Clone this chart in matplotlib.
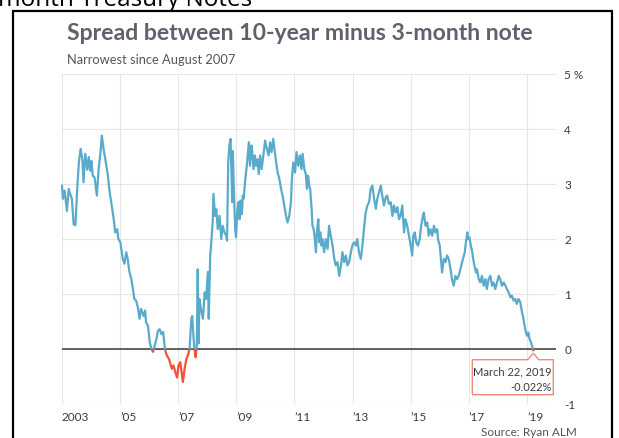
import numpy as np
import matplotlib
matplotlib.use("Agg")
import matplotlib.pyplot as plt
from matplotlib.patches import Rectangle, Polygon

# 10-year minus 3-month Treasury spread, in % (decimal years)
years = [
    2003.00, 2003.03, 2003.09, 2003.17, 2003.23, 2003.30, 2003.34, 2003.40, 2003.46, 2003.53,
    2003.58, 2003.64, 2003.70, 2003.74, 2003.80, 2003.87, 2003.92, 2003.97, 2004.01, 2004.06,
    2004.12, 2004.20, 2004.26, 2004.33, 2004.37, 2004.43, 2004.49, 2004.58, 2004.64, 2004.72,
    2004.78, 2004.83, 2004.90, 2004.94, 2005.01, 2005.09, 2005.15, 2005.21, 2005.26, 2005.32,
    2005.38, 2005.44, 2005.49, 2005.55, 2005.61, 2005.67, 2005.72, 2005.81, 2005.86, 2005.89,
    2005.96, 2006.02, 2006.08, 2006.13, 2006.19, 2006.25, 2006.30, 2006.36, 2006.42, 2006.48,
    2006.53, 2006.57, 2006.61, 2006.68, 2006.73, 2006.78, 2006.84, 2006.90, 2006.96, 2007.01,
    2007.07, 2007.13, 2007.16, 2007.22, 2007.28, 2007.33, 2007.39, 2007.45, 2007.48, 2007.53,
    2007.56, 2007.60, 2007.64, 2007.67, 2007.70, 2007.73, 2007.79, 2007.85, 2007.91, 2007.96,
    2008.02, 2008.05, 2008.10, 2008.13, 2008.19, 2008.21, 2008.27, 2008.31, 2008.36, 2008.42,
    2008.48, 2008.53, 2008.59, 2008.65, 2008.68, 2008.72, 2008.76, 2008.80, 2008.83, 2008.86,
    2008.88, 2008.91, 2008.96, 2008.99, 2009.03, 2009.07, 2009.11, 2009.14, 2009.19, 2009.22,
    2009.25, 2009.31, 2009.37, 2009.43, 2009.47, 2009.52, 2009.56, 2009.59, 2009.64, 2009.68,
    2009.73, 2009.77, 2009.82, 2009.87, 2009.93, 2009.99, 2010.02, 2010.08, 2010.11, 2010.16,
    2010.21, 2010.27, 2010.31, 2010.37, 2010.42, 2010.48, 2010.54, 2010.59, 2010.65, 2010.71,
    2010.76, 2010.82, 2010.88, 2010.91, 2010.96, 2011.02, 2011.07, 2011.13, 2011.19, 2011.24,
    2011.28, 2011.34, 2011.39, 2011.43, 2011.47, 2011.51, 2011.54, 2011.59, 2011.62, 2011.66,
    2011.70, 2011.74, 2011.77, 2011.82, 2011.85, 2011.89, 2011.93, 2011.96, 2012.02, 2012.08,
    2012.14, 2012.19, 2012.25, 2012.31, 2012.37, 2012.42, 2012.48, 2012.54, 2012.60, 2012.65,
    2012.71, 2012.77, 2012.82, 2012.88, 2012.94, 2012.99, 2013.05, 2013.11, 2013.16, 2013.22,
    2013.28, 2013.34, 2013.39, 2013.45, 2013.51, 2013.57, 2013.62, 2013.68, 2013.74, 2013.80,
    2013.85, 2013.91, 2013.97, 2014.02, 2014.08, 2014.14, 2014.19, 2014.25, 2014.31, 2014.37,
    2014.42, 2014.48, 2014.54, 2014.60, 2014.65, 2014.71, 2014.77, 2014.82, 2014.88, 2014.94,
    2015.00, 2015.05, 2015.09, 2015.14, 2015.19, 2015.25, 2015.31, 2015.36, 2015.42, 2015.45,
    2015.51, 2015.57, 2015.62, 2015.68, 2015.74, 2015.80, 2015.85, 2015.91, 2015.94, 2016.00,
    2016.06, 2016.08, 2016.14, 2016.20, 2016.25, 2016.31, 2016.37, 2016.42, 2016.48, 2016.54,
    2016.60, 2016.65, 2016.71, 2016.77, 2016.86, 2016.90, 2016.95, 2016.97, 2017.02, 2017.08,
    2017.11, 2017.15, 2017.19, 2017.25, 2017.28, 2017.34, 2017.40, 2017.45, 2017.51, 2017.57,
    2017.62, 2017.68, 2017.74, 2017.80, 2017.85, 2017.91, 2017.97, 2018.03, 2018.08, 2018.14,
    2018.20, 2018.26, 2018.31, 2018.37, 2018.43, 2018.48, 2018.54, 2018.60, 2018.65, 2018.71,
    2018.77, 2018.83, 2018.88, 2018.94, 2019.00, 2019.05, 2019.09, 2019.14, 2019.22,
]
spread = [
    2.97, 2.73, 2.88, 2.51, 2.91, 2.79, 2.73, 2.27, 2.25, 2.97,
    3.39, 3.64, 3.45, 3.03, 3.55, 3.26, 3.49, 3.24, 3.42, 3.15,
    3.12, 2.79, 3.27, 3.60, 3.88, 3.64, 3.45, 3.15, 2.85, 2.58,
    2.36, 2.12, 2.18, 2.00, 1.94, 1.64, 1.55, 1.76, 1.64, 1.40,
    1.29, 1.09, 0.91, 0.88, 0.76, 0.55, 0.73, 0.60, 0.70, 0.49,
    0.42, 0.12, 0.00, -0.05, 0.06, 0.18, 0.33, 0.36, 0.27, 0.31,
    0.06, -0.06, -0.12, -0.18, -0.27, -0.36, -0.30, -0.42, -0.52, -0.30,
    -0.24, -0.48, -0.60, -0.36, -0.18, -0.12, 0.00, 0.55, 0.60, 0.18,
    0.00, -0.15, 0.06, 1.45, 0.10, 0.91, 0.70, 0.55, 1.03, 0.91,
    1.40, 0.55, 1.70, 1.88, 2.36, 2.82, 2.42, 2.54, 2.18, 2.42,
    2.00, 2.24, 2.12, 2.06, 1.97, 3.39, 3.70, 3.82, 3.27, 2.67,
    3.60, 2.97, 2.18, 2.03, 2.50, 2.67, 2.36, 2.70, 2.45, 2.79,
    2.73, 3.09, 3.39, 3.76, 3.33, 3.70, 3.52, 3.27, 3.52, 3.33,
    3.45, 3.18, 3.52, 3.27, 3.52, 3.79, 3.70, 3.58, 3.52, 3.76,
    3.58, 3.82, 3.64, 3.39, 3.21, 3.09, 2.91, 2.79, 2.61, 2.42,
    2.30, 2.42, 2.67, 3.09, 3.39, 3.21, 3.58, 3.33, 3.52, 3.27,
    3.55, 3.27, 3.18, 2.91, 3.15, 2.97, 2.91, 2.55, 2.24, 2.18,
    2.00, 1.76, 2.12, 2.36, 1.94, 2.12, 1.88, 2.00, 1.76, 2.00,
    1.82, 2.24, 2.06, 1.88, 1.64, 1.52, 1.58, 1.33, 1.52, 1.76,
    1.58, 1.70, 1.52, 1.58, 1.76, 1.88, 1.94, 1.88, 2.00, 1.76,
    1.64, 1.88, 2.18, 2.48, 2.61, 2.67, 2.91, 2.97, 2.73, 2.55,
    2.73, 2.85, 2.97, 2.79, 2.61, 2.76, 2.79, 2.64, 2.67, 2.42,
    2.61, 2.48, 2.58, 2.36, 2.42, 2.61, 2.12, 2.36, 2.24, 2.06,
    1.88, 1.70, 2.06, 2.12, 1.94, 1.88, 2.00, 2.24, 2.42, 2.48,
    2.24, 2.30, 2.06, 2.18, 2.06, 2.24, 2.12, 2.18, 2.00, 1.88,
    1.52, 1.39, 1.64, 1.58, 1.70, 1.64, 1.45, 1.27, 1.15, 1.33,
    1.27, 1.33, 1.45, 1.58, 1.76, 1.94, 2.12, 2.00, 2.03, 1.85,
    1.79, 1.64, 1.52, 1.39, 1.45, 1.27, 1.21, 1.33, 1.15, 1.27,
    1.09, 1.27, 1.33, 1.15, 1.21, 1.09, 1.21, 1.33, 1.27, 1.15,
    1.21, 1.15, 1.09, 1.03, 0.94, 0.97, 0.88, 0.91, 0.82, 0.91,
    0.85, 0.67, 0.55, 0.36, 0.24, 0.30, 0.18, 0.12, -0.022,
]

x_ticks = [2003, 2005, 2007, 2009, 2011, 2013, 2015, 2017, 2019]
x_labels = ["2003", "’05", "’07", "’09", "’11", "’13", "’15", "’17", "’19"]
y_ticks = [5, 4, 3, 2, 1, 0, -1]
y_labels = ["5 %", "4", "3", "2", "1", "0", "-1"]

last_date = "March 22, 2019"

W, H = 619, 439
BLUE = "#5aabcb"
RED = "#ef5436"
GRID = "#e6e6e6"

plt.rcParams["font.family"] = ["Lato", "DejaVu Sans"]


def fx(px):
    return px / W


def fy(py):
    return 1 - py / H


fig = plt.figure(figsize=(W / 100, H / 100), dpi=100)
ax = fig.add_axes([fx(62), fy(405), fx(556) - fx(62), fy(75) - fy(405)])

ax.set_xlim(2003, 2020)
ax.set_ylim(-1, 5)

# grid
for t in x_ticks:
    ax.axvline(t, color=GRID, lw=0.8, zorder=0)
for t in y_ticks:
    ax.axhline(t, color=GRID, lw=0.8, zorder=0)
ax.axhline(0, color="#555555", lw=1.3, zorder=2)

# blue above zero, red below zero
x = np.array(years)
y = np.array(spread)
pos_line, = ax.plot(x, y, color=BLUE, lw=1.6, zorder=3)
neg_line, = ax.plot(x, y, color=RED, lw=1.6, zorder=3)
pos_line.set_clip_path(Rectangle((2000, 0), 30, 10, transform=ax.transData))
neg_line.set_clip_path(Rectangle((2000, -10), 30, 10, transform=ax.transData))

for s in ax.spines.values():
    s.set_visible(False)

ax.yaxis.tick_right()
ax.set_yticks(y_ticks)
ax.set_yticklabels(y_labels)
ax.set_xticks(x_ticks)
ax.set_xticklabels(x_labels)
ax.tick_params(axis="both", length=0, labelsize=8.5, labelcolor="#3a3a3a")
ax.tick_params(axis="y", pad=6)
ax.tick_params(axis="x", pad=5)
for lab in ax.get_xticklabels():
    lab.set_ha("left")

# callout box for the latest reading
fig.canvas.draw()
px_pt = ax.transData.transform((years[-1], spread[-1]))
ax_x, ax_y = px_pt[0], H - px_pt[1] + 3
box = [(ax_x - 61, ax_y + 6.5), (ax_x - 5.5, ax_y + 6.5), (ax_x, ax_y),
       (ax_x + 5.5, ax_y + 6.5), (ax_x + 20, ax_y + 6.5),
       (ax_x + 20, ax_y + 41.5), (ax_x - 61, ax_y + 41.5)]
fig.add_artist(Polygon([(fx(a), fy(b)) for a, b in box], closed=True,
                       transform=fig.transFigure, facecolor="white",
                       edgecolor="#f08a78", lw=1.0, zorder=5))
fig.text(fx(ax_x + 18), fy(ax_y + 21), last_date, ha="right", va="baseline",
         fontsize=8, color="#3c3c3c", zorder=6)
fig.text(fx(ax_x + 18), fy(ax_y + 36.5), f"{spread[-1]:.3f}%", ha="right",
         va="baseline", fontsize=8, color="#3c3c3c", zorder=6)

# headings
fig.text(fx(-2), fy(5.5), "month Treasury Notes", fontsize=17.5, color="black",
         va="baseline", family=["Open Sans", "DejaVu Sans"])
fig.text(fx(67), fy(40), "Spread between 10-year minus 3-month note",
         fontsize=16.6, fontweight="bold", color="#5e626d", va="baseline")
fig.text(fx(67), fy(64), "Narrowest since August 2007", fontsize=9.3,
         color="#555555", va="baseline")
fig.text(fx(577), fy(436), "Source: Ryan ALM", fontsize=8.5, color="#555555",
         ha="right", va="baseline")

# outer frame
fig.add_artist(Rectangle((fx(13), -0.1), fx(612) - fx(13), fy(12) + 0.1,
                         transform=fig.transFigure, fill=False,
                         edgecolor="black", lw=1.6))

fig.savefig("out.png", dpi=100)
